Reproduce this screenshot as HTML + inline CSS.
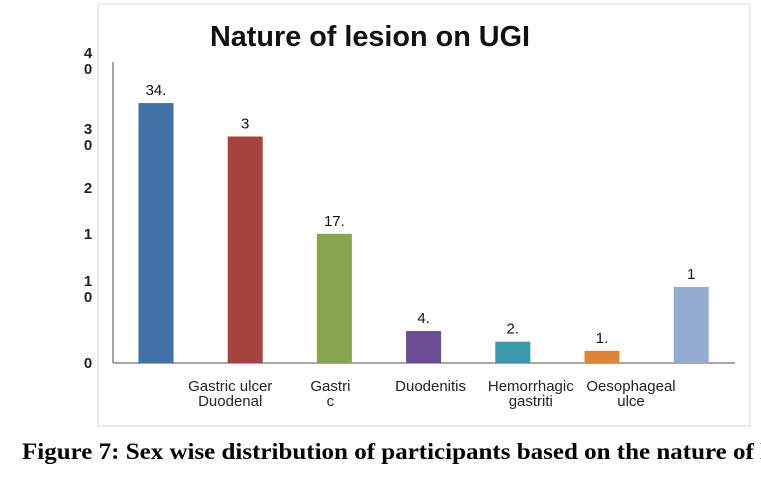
<!DOCTYPE html>
<html><head><meta charset="utf-8"><style>
body{margin:0;background:#fff;width:761px;height:486px;overflow:hidden}
svg{display:block}
</style></head><body>
<svg width="761" height="486" xmlns="http://www.w3.org/2000/svg">
<rect x="98" y="4" width="652" height="422" fill="#fff" stroke="#e2e6ea" stroke-width="1.5"/>
<text x="210" y="46" textLength="320" lengthAdjust="spacingAndGlyphs" font-family="Liberation Sans, sans-serif" font-weight="bold" font-size="29" fill="#111">Nature of lesion on UGI</text>
<line x1="113" y1="62" x2="113" y2="363" stroke="#888" stroke-width="1.5"/>
<line x1="113" y1="363" x2="735" y2="363" stroke="#888" stroke-width="1.5"/>
<g id="yticks" font-family="Liberation Sans, sans-serif" font-size="15" font-weight="bold" fill="#222"></g>
<g id="bars"></g>
<g id="xlabels" font-family="Liberation Sans, sans-serif" font-size="15" fill="#222"></g>
<text x="22" y="459" textLength="745" lengthAdjust="spacingAndGlyphs" font-family="Liberation Serif, serif" font-weight="bold" font-size="23" fill="#000">Figure 7: Sex wise distribution of participants based on the nature of l</text>
</svg>
<script>
const categories=["","Gastric ulcer","Gastric","Duodenitis","Hemorrhagic gastritis","Oesophageal ulcer",""];
const values=[34.2,29.8,17,4.2,2.8,1.6,10];
const valueLabels=["34.","3","17.","4.","2.","1.","1"];
const colors=["#4170a6","#a8443f","#88a44c","#6b4c92","#3b98ad","#dd8436","#94abd2"];
const xLabelLines=[[],["Gastric ulcer","Duodenal"],["Gastri","c"],["Duodenitis"],["Hemorrhagic","gastriti"],["Oesophageal","ulce"],[]];
const yTickValues=[0,10,17,23,30,40];
const yTickLabels=[["0"],["1","0"],["1"],["2"],["3","0"],["4","0"]];
const NS="http://www.w3.org/2000/svg";
const y0=363,pxPerUnit=7.6;
function yScale(v){return y0-v*pxPerUnit;}
function xScale(i){return 156+i*89.2;}
const bw=35;
const bars=document.getElementById('bars');
values.forEach((v,i)=>{
 const r=document.createElementNS(NS,'rect');
 r.setAttribute('x',xScale(i)-bw/2);r.setAttribute('y',yScale(v));
 r.setAttribute('width',bw);r.setAttribute('height',y0-yScale(v));
 r.setAttribute('fill',colors[i]);
 
 
 bars.appendChild(r);
 const t=document.createElementNS(NS,'text');
 t.setAttribute('x',xScale(i));t.setAttribute('y',yScale(v)-8);
 t.setAttribute('text-anchor','middle');t.setAttribute('font-family','Liberation Sans, sans-serif');
 t.setAttribute('font-size','15');t.setAttribute('fill','#111');
 t.textContent=valueLabels[i];
 
 
 bars.appendChild(t);
});
const xl=document.getElementById('xlabels');
xLabelLines.forEach((lines,i)=>{
 lines.forEach((s,j)=>{
  const t=document.createElementNS(NS,'text');
  t.setAttribute('x',xScale(i)-26+11*i);t.setAttribute('y',391+j*15);
  t.setAttribute('text-anchor','middle');t.textContent=s;
  
  
  xl.appendChild(t);
 });
});
const yt=document.getElementById('yticks');
yTickValues.forEach((v,i)=>{
 const lines=yTickLabels[i];
 lines.forEach((s,j)=>{
  const t=document.createElementNS(NS,'text');
  t.setAttribute('x',88);
  const base=yScale(v)+5;
  t.setAttribute('y',base+j*16-(lines.length-1)*6);
  t.setAttribute('text-anchor','middle');t.textContent=s;
  
  
  yt.appendChild(t);
 });
});
</script>
</body></html>
